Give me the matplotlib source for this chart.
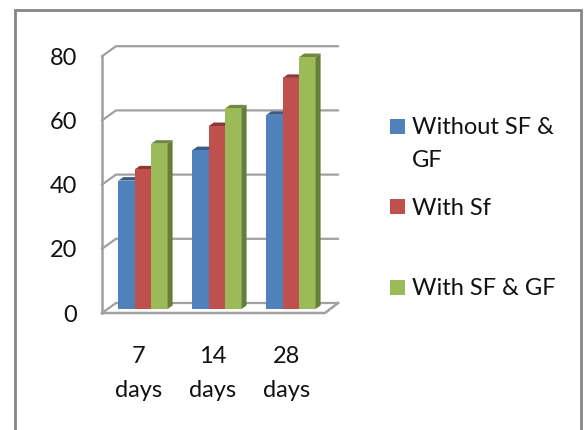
import matplotlib
matplotlib.use('Agg')
import matplotlib.pyplot as plt
from matplotlib.patches import Polygon, Rectangle

categories = ['7\ndays', '14\ndays', '28\ndays']
series_names = ['Without SF &\nGF', 'With Sf', 'With SF & GF']
without_sf_gf = [40, 49.5, 60.5]
with_sf = [43.5, 57, 72]
with_sf_gf = [51.5, 62.5, 78.5]
y_ticks = [0, 20, 40, 60, 80]

front = ['#4F81BD', '#C0504D', '#9BBB59']
tops = ['#385D8A', '#8C3836', '#71893F']
sides = ['#3A5F8B', '#8E3B38', '#677E3A']
GRID = '#A0A0A0'
W, H = 584, 430
FS = 17

plt.rcParams['font.family'] = ['Lato', 'DejaVu Sans']

fig = plt.figure(figsize=(W / 100, H / 100), dpi=100)

# plot area in pixels: x 102-338, y 46-313
ax = fig.add_axes([102 / W, 1 - 313 / H, 236 / W, 267 / H])
px_x = 74.0   # pixels per category
px_y = 3.21   # pixels per y unit
ax.set_xlim((102 - 143) / px_x, (338 - 143) / px_x)
ax.set_ylim(0, 267 / px_y)
for s in ax.spines.values():
    s.set_visible(False)
ax.patch.set_alpha(0)

# 3d offsets in data units
wall_dx, wall_dy = 14 / px_x, 10 / px_y
base_dy = 4 / px_y
bar_dx, bar_dy = 5 / px_x, 3.5 / px_y
bar_w = 16.4 / px_x
x_right_front = (325 - 143) / px_x
x_left = ax.get_xlim()[0]
x_right = ax.get_xlim()[1]

# walls and gridlines
for t in y_ticks:
    ax.plot([x_left, x_left + wall_dx, x_right], [t, t + wall_dy, t + wall_dy],
            color=GRID, lw=1.6, zorder=1, clip_on=False, solid_joinstyle='miter')
ax.plot([x_left, x_left], [0, 80], color=GRID, lw=1.8, zorder=1, clip_on=False)
ax.plot([x_left, x_right_front, x_right], [0, 0, wall_dy], color=GRID, lw=1.8,
        zorder=1, clip_on=False)

# bars
for i, vals in enumerate([without_sf_gf, with_sf, with_sf_gf]):
    xs = [c + (i - 1) * bar_w for c in range(len(categories))]
    ax.bar(xs, vals, bar_w, bottom=base_dy, color=front[i], zorder=3 + i * 0.1)
    for x, v in zip(xs, vals):
        top = v + base_dy
        r = x + bar_w / 2
        l = x - bar_w / 2
        ax.add_patch(Polygon([(l, top), (r, top), (r + bar_dx, top + bar_dy),
                              (l + bar_dx, top + bar_dy)], closed=True,
                             fc=tops[i], ec='none', zorder=2.9 + i * 0.1))
        if i == 2:
            ax.add_patch(Polygon([(r, base_dy), (r + bar_dx, base_dy + bar_dy),
                                  (r + bar_dx, top + bar_dy), (r, top)], closed=True,
                                 fc=sides[i], ec='none', zorder=3.5))

ax.set_yticks(y_ticks)
ax.set_xticks([c - 4 / px_x for c in range(len(categories))])
ax.set_xticklabels(categories, linespacing=1.75)
ax.tick_params(axis='y', length=0, pad=18, labelsize=FS, labelcolor='#111111')
ax.tick_params(axis='x', length=0, pad=24, labelsize=FS, labelcolor='#111111')

# outer frame, bottom edge runs off the picture
fig.add_artist(Rectangle((14.5 / W, 1 - 440 / H), 566 / W, 430 / H, fill=False,
                         ec='#868686', lw=2, transform=fig.transFigure))

# legend
leg_y = [126.5, 206.5, 287.5]
text_y = [144, 208.5, 288.5]
for i, name in enumerate(series_names):
    fig.add_artist(Rectangle((390 / W, 1 - (leg_y[i] + 7.5) / H), 15 / W, 15 / H,
                             fc=front[i], ec='none', transform=fig.transFigure))
    fig.text(412 / W, 1 - text_y[i] / H, name, fontsize=FS, color='#111111',
             va='center', ha='left', linespacing=1.73)

fig.savefig('out.png', dpi=100)
